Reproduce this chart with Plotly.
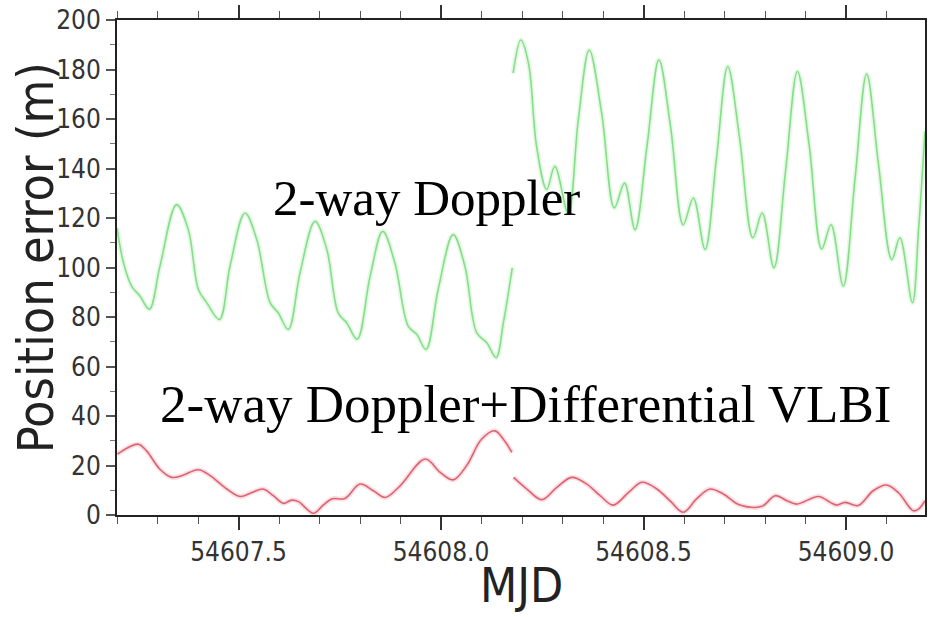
import plotly.graph_objects as go

# 2-way Doppler solution: two orbit-determination arcs (MJD, position error in m)
doppler_mjd_a = [54607.200, 54607.216, 54607.236, 54607.257, 54607.280, 54607.306,
                 54607.347, 54607.376, 54607.401, 54607.421, 54607.453, 54607.479,
                 54607.516, 54607.545, 54607.578, 54607.598, 54607.623, 54607.652,
                 54607.689, 54607.718, 54607.746, 54607.767, 54607.793, 54607.825,
                 54607.856, 54607.886, 54607.919, 54607.940, 54607.963, 54607.993,
                 54608.030, 54608.059, 54608.088, 54608.113, 54608.136, 54608.154,
                 54608.176]
doppler_err_a = [116.0, 101.9, 92.5, 88.4, 83.1, 100.5,
                 125.4, 115.3, 91.1, 85.9, 79.0, 100.5,
                 122.0, 111.3, 85.8, 81.7, 75.0, 97.9,
                 118.7, 107.3, 81.7, 77.7, 71.0, 96.5,
                 114.6, 101.9, 76.3, 73.0, 66.9, 91.1,
                 113.3, 100.5, 73.7, 69.6, 63.6, 77.7,
                 99.9]

doppler_mjd_b = [54608.178, 54608.197, 54608.216, 54608.236, 54608.261, 54608.281,
                 54608.314, 54608.339, 54608.366, 54608.397, 54608.428, 54608.453,
                 54608.479, 54608.509, 54608.538, 54608.567, 54608.598, 54608.623,
                 54608.652, 54608.680, 54608.708, 54608.737, 54608.770, 54608.793,
                 54608.822, 54608.851, 54608.880, 54608.909, 54608.940, 54608.963,
                 54608.993, 54609.022, 54609.051, 54609.080, 54609.113, 54609.133,
                 54609.164, 54609.179, 54609.195]
doppler_err_b = [178.5, 191.9, 182.5, 148.9, 131.5, 140.9,
                 122.0, 159.7, 187.9, 162.0, 124.1, 134.1,
                 115.3, 149.6, 183.9, 156.6, 117.3, 128.1,
                 107.3, 144.0, 181.2, 152.6, 112.0, 122.0,
                 99.9, 139.5, 179.2, 149.4, 107.5, 117.3,
                 92.5, 135.4, 178.2, 142.0, 103.2, 112.0,
                 85.8, 115.0, 155.0]

# 2-way Doppler + differential VLBI solution
vlbi_mjd_a = [54607.201, 54607.228, 54607.253, 54607.273, 54607.306, 54607.335,
              54607.360, 54607.401, 54607.430, 54607.471, 54607.504, 54607.533,
              54607.561, 54607.586, 54607.611, 54607.631, 54607.648, 54607.685,
              54607.709, 54607.730, 54607.763, 54607.800, 54607.833, 54607.862,
              54607.899, 54607.961, 54607.998, 54608.030, 54608.063, 54608.100,
              54608.133, 54608.154, 54608.175]
vlbi_err_a = [24.6, 27.3, 28.6, 25.9, 18.5, 15.2,
              15.9, 18.3, 15.9, 10.5, 7.5, 9.1,
              10.5, 7.8, 4.7, 6.0, 5.4, 0.7,
              4.0, 6.5, 6.7, 12.5, 9.8, 7.1,
              11.8, 22.6, 17.2, 14.2, 19.9, 30.6,
              34.0, 30.6, 25.3]

vlbi_mjd_b = [54608.179, 54608.212, 54608.249, 54608.286, 54608.323, 54608.360,
              54608.393, 54608.425, 54608.463, 54608.496, 54608.533, 54608.565,
              54608.598, 54608.631, 54608.664, 54608.697, 54608.738, 54608.792,
              54608.825, 54608.854, 54608.878, 54608.932, 54608.961, 54608.977,
              54608.998, 54609.030, 54609.067, 54609.100, 54609.129, 54609.166,
              54609.179, 54609.195]
vlbi_err_b = [15.2, 10.5, 6.2, 11.2, 15.2, 12.5,
              7.8, 4.0, 9.1, 13.2, 10.5, 5.8,
              1.1, 6.5, 10.5, 8.5, 4.0, 3.5,
              7.8, 5.8, 4.4, 7.5, 5.1, 4.0,
              5.1, 3.8, 9.8, 12.1, 9.1, 1.7,
              2.4, 5.8]

x_ticks = [54607.5, 54608.0, 54608.5, 54609.0]
x_tick_text = ["54607.5", "54608.0", "54608.5", "54609.0"]
y_ticks = [0, 20, 40, 60, 80, 100, 120, 140, 160, 180, 200]

GREEN, GREEN_HALO = "#86de8a", "rgba(160,232,160,0.28)"
RED, RED_HALO = "#dc6470", "rgba(240,150,165,0.30)"
SANS = "Liberation Sans Narrow, DejaVu Sans Condensed, Roboto, Arial, sans-serif"
SERIF = "Liberation Serif, Times New Roman, DejaVu Serif, serif"

fig = go.Figure()


def add_curve(xs, ys, color, halo):
    # soft halo underneath, then the main stroke
    fig.add_trace(go.Scatter(x=xs, y=ys, mode="lines", hoverinfo="skip",
                             line=dict(color=halo, width=5, shape="spline", smoothing=1.0),
                             showlegend=False))
    fig.add_trace(go.Scatter(x=xs, y=ys, mode="lines",
                             line=dict(color=color, width=1.6, shape="spline", smoothing=1.0),
                             showlegend=False))


add_curve(doppler_mjd_a, doppler_err_a, GREEN, GREEN_HALO)
add_curve(doppler_mjd_b, doppler_err_b, GREEN, GREEN_HALO)
add_curve(vlbi_mjd_a, vlbi_err_a, RED, RED_HALO)
add_curve(vlbi_mjd_b, vlbi_err_b, RED, RED_HALO)

# series labels inside the plot
fig.add_annotation(text="2-way Doppler", x=54607.963, y=128, xref="x", yref="y",
                   showarrow=False, xanchor="center", yanchor="middle",
                   font=dict(family=SERIF, size=51, color="#000000"))
fig.add_annotation(text="2-way Doppler+Differential VLBI", x=54608.209, y=45, xref="x", yref="y",
                   showarrow=False, xanchor="center", yanchor="middle",
                   font=dict(family=SERIF, size=53, color="#000000"))

# axis titles
fig.add_annotation(text="MJD", x=0.5, y=-0.202, xref="paper", yref="paper",
                   showarrow=False, xanchor="center", yanchor="bottom",
                   font=dict(family=SANS, size=48, color="#222222"))
fig.add_annotation(text="Position error (m)", x=-0.100, y=0.519, xref="paper", yref="paper",
                   textangle=-90, showarrow=False, xanchor="center", yanchor="middle",
                   font=dict(family=SANS, size=50, color="#222222"))

fig.update_layout(
    width=928, height=617,
    margin=dict(l=117, r=3, t=20, b=102),
    paper_bgcolor="white", plot_bgcolor="white",
    font=dict(family=SANS, color="#2a2a2a"),
)

fig.update_xaxes(
    range=[54607.2, 54609.195], tickvals=x_ticks, ticktext=x_tick_text,
    automargin=False,
    showgrid=False, zeroline=False,
    showline=True, linecolor="#222222", linewidth=2, mirror="ticks",
    ticks="outside", ticklen=13, tickwidth=1.5, tickcolor="#333333",
    minor=dict(dtick=0.1, tick0=54607.2, ticks="outside", ticklen=7, tickwidth=1.2,
               tickcolor="#555555", showgrid=False),
    tickfont=dict(size=26, color="#333333"),
)
fig.update_yaxes(
    range=[0, 200], tickvals=y_ticks,
    automargin=False,
    showgrid=False, zeroline=False,
    showline=True, linecolor="#222222", linewidth=2, mirror=True,
    ticks="outside", ticklen=9, tickwidth=1.5, tickcolor="#555555",
    minor=dict(dtick=10, ticks="outside", ticklen=5, tickwidth=1.2,
               tickcolor="#777777", showgrid=False),
    tickfont=dict(size=26, color="#333333"),
)

fig.write_html("out.html")
